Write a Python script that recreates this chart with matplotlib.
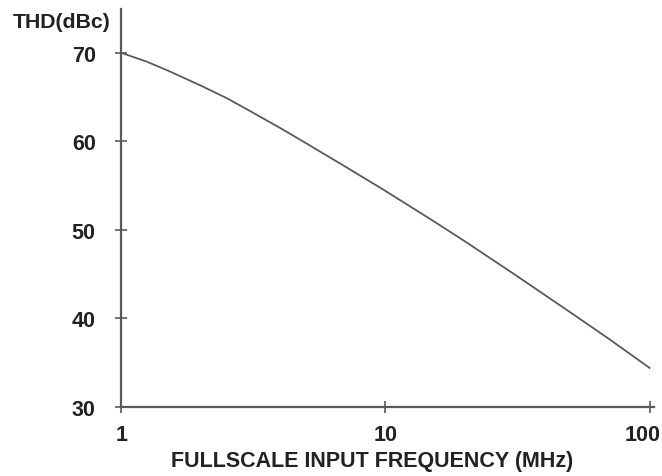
import matplotlib.pyplot as plt
import matplotlib.transforms as mtransforms

# THD vs fullscale input frequency
freq_mhz = [1, 1.25, 1.5, 2, 2.5, 3, 4, 5, 7, 10, 15, 20, 30, 50, 70, 100]
thd_dbc = [70, 69.0, 68.0, 66.3, 64.9, 63.6, 61.5, 59.8, 57.2, 54.4,
           51.1, 48.7, 45.2, 40.7, 37.7, 34.4]

x_ticks = [1, 10, 100]
x_tick_labels = ["1", "10", "100"]
y_ticks = [30, 40, 50, 60, 70]

plt.rcParams["font.family"] = ["Liberation Sans", "DejaVu Sans"]
ink = "#222222"
line_col = "#5a5a5a"

fig = plt.figure(figsize=(6.62, 4.77), dpi=100)
ax = fig.add_axes([0.183, 0.145, 0.805, 0.835])

ax.plot(freq_mhz, thd_dbc, color=line_col, lw=1.3)

ax.set_xscale("log")
ax.set_xlim(1, 104)
ax.set_ylim(30, 75)

ax.set_xticks(x_ticks)
ax.set_xticklabels(x_tick_labels)
ax.minorticks_off()
ax.set_yticks(y_ticks)

for side in ["top", "right"]:
    ax.spines[side].set_visible(False)
for side in ["left", "bottom"]:
    ax.spines[side].set_color(line_col)
    ax.spines[side].set_linewidth(1.6)

ax.tick_params(axis="both", direction="inout", length=8.5, width=1.2, color=line_col,
               labelsize=15.5, labelcolor=ink)
ax.tick_params(axis="y", pad=14)
ax.tick_params(axis="x", pad=8)
for lbl in ax.get_xticklabels() + ax.get_yticklabels():
    lbl.set_fontweight("bold")

# last x label sits right at the edge; nudge it left so it stays inside
last = ax.get_xticklabels()[-1]
last.set_transform(last.get_transform() + mtransforms.ScaledTranslation(-7 / 100, 0, fig.dpi_scale_trans))

fig.text(372 / 662, 1 - 462 / 477, "FULLSCALE INPUT FREQUENCY (MHz)", fontsize=15.5,
         fontweight="bold", color=ink, ha="center", va="center")
fig.text(13 / 662, 1 - 23 / 477, "THD(dBc)", fontsize=15.3, fontweight="bold",
         color=ink, ha="left", va="center")

fig.savefig("out.png", dpi=100)
